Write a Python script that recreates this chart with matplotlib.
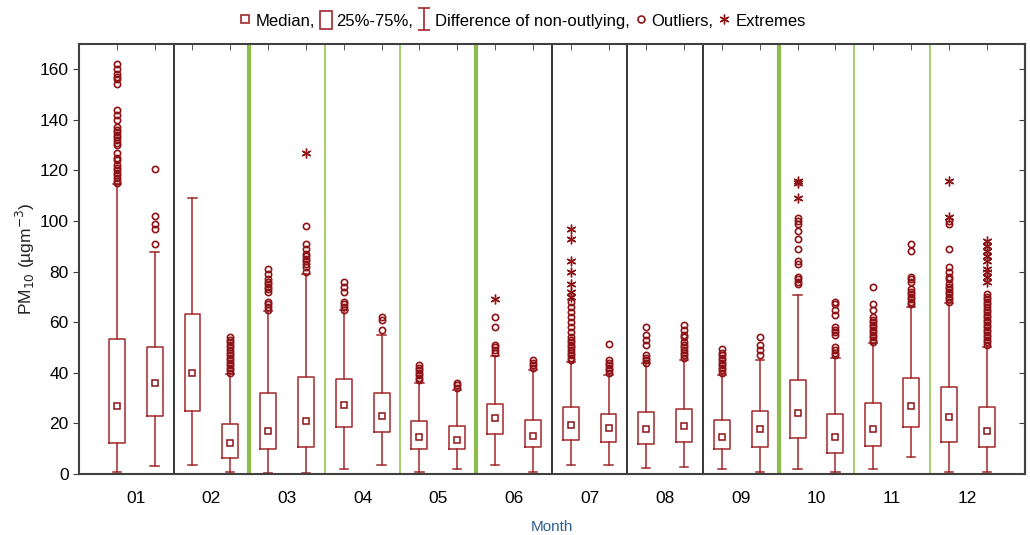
# import packages
import matplotlib
matplotlib.use('Agg')
import matplotlib.pyplot as plt
from matplotlib import font_manager
from matplotlib.lines import Line2D
from matplotlib.patches import Rectangle
from matplotlib.path import Path

# pick a narrow font if available
try:
    font_manager.findfont('Liberation Sans Narrow', fallback_to_default=False)
    plt.rcParams['font.family'] = ['Liberation Sans Narrow', 'DejaVu Sans']
except ValueError:
    plt.rcParams['font.family'] = ['Liberation Sans', 'DejaVu Sans']

# data: two boxes per month
months = ['01', '02', '03', '04', '05', '06', '07', '08', '09', '10', '11', '12']
whisker_lo = [0.8, 3.2, 3.6, 0.8, 0.5, 0.5, 2.0, 3.6, 0.8, 2.0, 3.6, 0.8,
              3.6, 3.6, 2.4, 2.8, 2.0, 0.8, 2.0, 0.8, 2.0, 6.7, 0.8, 0.8]
q1 = [12.3, 22.9, 25.0, 6.3, 9.9, 10.7, 18.6, 16.6, 10.0, 9.9, 15.8, 10.7,
      13.4, 12.6, 11.9, 12.6, 9.9, 10.7, 14.2, 8.3, 11.0, 18.6, 12.6, 10.7]
median = [26.9, 36.0, 40.0, 12.3, 17.0, 21.0, 27.3, 23.0, 14.7, 13.4, 22.0, 15.0,
          19.4, 18.2, 17.8, 19.0, 14.6, 17.8, 24.0, 14.6, 17.8, 27.0, 22.5, 17.0]
q3 = [53.4, 50.2, 63.2, 19.8, 32.0, 38.3, 37.5, 32.0, 21.0, 19.0, 27.7, 21.3,
      26.5, 23.7, 24.5, 25.7, 21.3, 25.0, 37.2, 23.7, 28.0, 38.0, 34.4, 26.5]
whisker_hi = [114.6, 87.7, 109.0, 39.5, 64.5, 79.0, 64.8, 55.0, 36.0, 33.2, 46.6, 41.0,
              44.3, 39.0, 43.9, 45.0, 39.0, 45.0, 70.8, 45.8, 51.8, 66.0, 67.6, 50.2]
outliers = [
    [115, 116, 117, 118, 119, 120, 121, 122, 124, 125, 127, 130, 131, 132, 133, 134,
     135, 136, 137, 140, 142, 144, 154, 156, 157, 158, 160, 162],
    [91, 97, 99, 102, 120.5],
    [],
    [40, 41, 42, 43, 44, 45, 46, 47, 48, 49, 50, 51, 52, 53, 54],
    [65, 66, 67, 68, 72, 73, 74, 75, 76, 77, 79, 81],
    [80, 82, 83, 84, 85, 86, 87, 89, 91, 98],
    [65, 66, 67, 68, 72, 74, 76],
    [57, 61, 62],
    [37, 38, 39, 40, 41, 42, 43],
    [34, 35, 36],
    [48, 49, 50, 51, 58, 62],
    [42, 43, 44, 45],
    [45, 46, 47, 48, 49, 50, 51, 52, 53, 54, 56, 58, 60, 62, 64, 66, 68],
    [40, 41, 42, 43, 44, 45, 51.5],
    [44, 45, 46, 47, 51, 53, 55, 58],
    [46, 47, 48, 49, 50, 51, 52, 54, 55, 57, 59],
    [40, 41, 42, 43, 44, 45, 46, 47, 48, 49.5],
    [47, 49, 51, 54],
    [75, 76, 77, 78, 83, 84, 89, 93, 96, 99, 100, 101],
    [47, 48, 49, 50, 55, 56, 57, 58, 63, 65, 67, 68],
    [52, 53, 54, 55, 56, 57, 58, 59, 60, 61, 62, 65, 67, 74],
    [67, 68, 69, 70, 71, 72, 73, 76, 77, 78, 88, 91],
    [68, 69, 70, 71, 72, 73, 74, 75, 77, 78, 80, 82, 89, 99, 100],
    [51, 52, 53, 54, 55, 56, 57, 58, 59, 60, 61, 62, 63, 64, 65, 66, 67, 68, 69, 70, 71],
]
extremes = [
    [], [], [], [], [], [127], [], [], [], [], [69], [],
    [70, 72, 75, 80, 84, 93, 97], [], [], [], [], [],
    [109, 115, 116], [], [], [], [101.5, 116], [76, 78, 80, 81, 84, 86, 88, 90, 92],
]

# month separators: (position between months, colour, width)
sep_after = [1, 2, 3, 4, 5, 6, 7, 8, 9, 10, 11]
sep_color = ['black', '#8cbd4c', '#9fcc62', '#9fcc62', '#8cbd4c', 'black',
             'black', 'black', '#8cbd4c', '#9fcc62', '#9fcc62']
sep_width = [1.1, 3.0, 1.3, 1.3, 3.0, 1.1, 1.1, 1.1, 3.0, 1.3, 1.3]

box_col = '#a3272b'
dot_col = '#8e1418'

positions = list(range(1, len(median) + 1))
stats = []
for i in range(len(median)):
    stats.append({'whislo': whisker_lo[i], 'q1': q1[i], 'med': median[i],
                  'q3': q3[i], 'whishi': whisker_hi[i], 'fliers': outliers[i]})

fig = plt.figure(figsize=(10.3, 5.35), dpi=100)
ax = fig.add_axes([0.0767, 0.114, 0.918, 0.804])

ax.bxp(stats, positions=positions, widths=0.42, showfliers=True,
       boxprops=dict(color=box_col, linewidth=1.1),
       whiskerprops=dict(color=box_col, linewidth=1.1),
       capprops=dict(color=box_col, linewidth=1.1),
       capwidths=0.22,
       medianprops=dict(linewidth=0),
       flierprops=dict(marker='o', markerfacecolor='none', markeredgecolor=dot_col,
                       markersize=4.5, markeredgewidth=1.2))

# median markers
ax.plot(positions, median, linestyle='none', marker='s', markersize=5,
        markerfacecolor='white', markeredgecolor=dot_col, markeredgewidth=1.1, zorder=4)

# extremes
for p, ext in zip(positions, extremes):
    if ext:
        ax.plot([p] * len(ext), ext, linestyle='none', marker=(6, 2, 0),
                markersize=7, color=dot_col, markeredgewidth=1.0)

# separators between months
for k, c, w in zip(sep_after, sep_color, sep_width):
    ax.axvline(2 * k + 0.5, color=c, linewidth=w, zorder=1)

ax.set_xlim(0, 25)
ax.set_ylim(0, 170)

# month labels between the pairs, top ticks at each box
ax.set_xticks([2 * i + 1.5 for i in range(len(months))])
ax.set_xticklabels(months, fontsize=12.5)
ax.tick_params(axis='x', which='major', length=0, pad=12)
ax.set_xticks(positions, minor=True)
ax.tick_params(axis='x', which='minor', bottom=False, top=True, direction='in', length=4,
               color='#404040')

ax.set_yticks(range(0, 161, 20))
ax.tick_params(axis='y', labelsize=12.5, direction='out', length=4, color='#404040')
sec = ax.secondary_yaxis('right')
sec.set_yticks(range(0, 161, 20))
sec.tick_params(direction='in', length=4, labelright=False, color='#404040')
sec.spines['right'].set_color('#404040')
sec.spines['right'].set_linewidth(1.5)

for s in ax.spines.values():
    s.set_color('#404040')
    s.set_linewidth(1.5)

ax.set_ylabel('PM$_{10}$ (µgm$^{-3}$)', fontsize=12.5, color='#222222', labelpad=2)
ax.set_xlabel('Month', fontsize=11, color='#2f5f8f', labelpad=10)

# legend; whisker symbol drawn as an "I" with caps
whisker_mark = Path([(-0.5, 1), (0.5, 1), (0, 1), (0, -1), (-0.5, -1), (0.5, -1)],
                    [Path.MOVETO, Path.LINETO, Path.MOVETO, Path.LINETO,
                     Path.MOVETO, Path.LINETO])
handles = [
    Line2D([], [], linestyle='none', marker='s', markersize=6, markerfacecolor='white',
           markeredgecolor=box_col, markeredgewidth=1.2),
    Rectangle((0, 0), 1, 1, facecolor='white', edgecolor=box_col, linewidth=1.2),
    Line2D([], [], linestyle='none', marker=whisker_mark, markersize=16, color=box_col,
           markeredgewidth=1.2, markerfacecolor='none'),
    Line2D([], [], linestyle='none', marker='o', markersize=5, markerfacecolor='white',
           markeredgecolor=dot_col, markeredgewidth=1.2),
    Line2D([], [], linestyle='none', marker=(6, 2, 0), markersize=7, color=dot_col),
]
labels = ['Median,', '25%-75%,', 'Difference of non-outlying,', 'Outliers,', 'Extremes']
fig.legend(handles, labels, loc='center', bbox_to_anchor=(0.507, 0.962), ncol=5,
           frameon=False, fontsize=12, handlelength=0.7, handleheight=1.3,
           handletextpad=0.3, columnspacing=0.3)

fig.savefig('out.png', dpi=100)
